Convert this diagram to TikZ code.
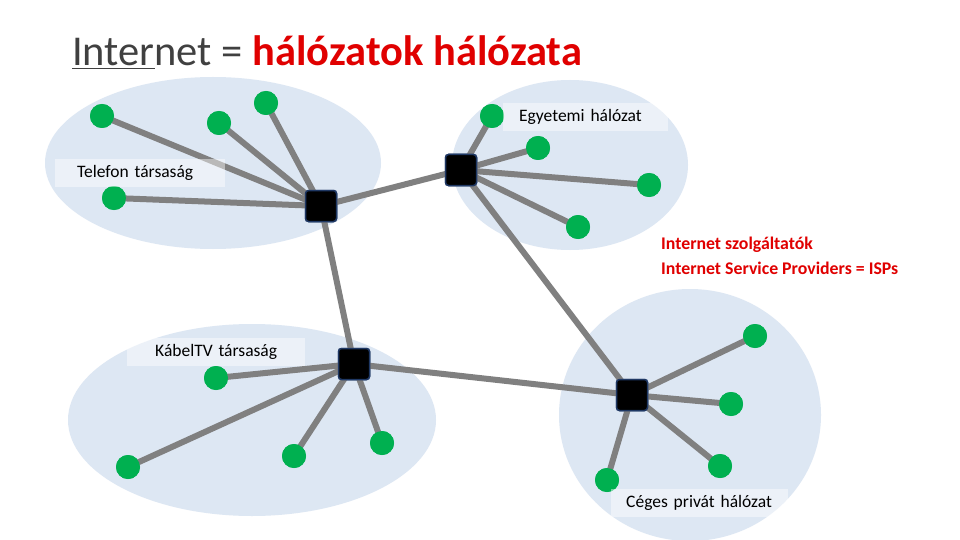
\documentclass[tikz,border=0pt]{standalone}
\usepackage{fontspec}
\setmainfont{Carlito}
\definecolor{cloud}{HTML}{DDE7F3}
\definecolor{leaf}{HTML}{00B050}
\definecolor{linkgray}{HTML}{808080}
\definecolor{rborder}{HTML}{1F3864}
\definecolor{titlered}{HTML}{E00000}
\definecolor{titlegray}{HTML}{404040}
\begin{document}
\begin{tikzpicture}[x=1pt,y=-1pt,
  net/.style={fill=cloud,draw=none},
  link/.style={draw=linkgray,line width=6pt},
  leafnode/.style={circle,fill=leaf,minimum size=24pt,inner sep=0pt},
  router/.style={rectangle,rounded corners=3pt,fill=black,draw=rborder,line width=1.5pt,minimum size=31pt,inner sep=0pt},
  tagbox/.style={fill=white,fill opacity=0.45,text opacity=1,anchor=west,inner xsep=0pt,inner ysep=6pt,font=\fontsize{17.5}{19}\selectfont},
  isp/.style={anchor=west,text=titlered,font=\bfseries\fontsize{17.8}{19}\selectfont,inner sep=0pt}]
\useasboundingbox (0,0) rectangle (960,540);
\fill[white] (0,0) rectangle (960,540);
% clouds
\path[net] (213,163) ellipse [x radius=168,y radius=86];
\path[net] (570,165) ellipse [x radius=118,y radius=85];
\path[net] (252,420) ellipse [x radius=184,y radius=96];
\path[net] (690,415) ellipse [x radius=131,y radius=126];
% routers
\node[router] (A) at (321,206) {};
\node[router] (B) at (461,170) {};
\node[router] (C) at (354,364) {};
\node[router] (D) at (632,395) {};
% leaves
\node[leafnode] (a1) at (102,116) {};
\node[leafnode] (a2) at (219,123) {};
\node[leafnode] (a3) at (266,103) {};
\node[leafnode] (a4) at (114,198) {};
\node[leafnode] (b1) at (492,116) {};
\node[leafnode] (b2) at (538,148) {};
\node[leafnode] (b3) at (649,185) {};
\node[leafnode] (b4) at (578,227) {};
\node[leafnode] (c1) at (216,378) {};
\node[leafnode] (c2) at (128,467) {};
\node[leafnode] (c3) at (294,456) {};
\node[leafnode] (c4) at (382,443) {};
\node[leafnode] (d1) at (755,336) {};
\node[leafnode] (d2) at (731,404) {};
\node[leafnode] (d3) at (720,466) {};
\node[leafnode] (d4) at (607,480) {};
% links
\foreach \r/\l in {A/a1,A/a2,A/a3,A/a4,B/b1,B/b2,B/b3,B/b4,C/c1,C/c2,C/c3,C/c4,D/d1,D/d2,D/d3,D/d4,A/B,A/C,B/D,C/D}
  \draw[link] (\r.center) -- (\l.center);
% redraw nodes on top of the links
\foreach \n/\p in {a1/{(102,116)},a2/{(219,123)},a3/{(266,103)},a4/{(114,198)},b1/{(492,116)},b2/{(538,148)},b3/{(649,185)},b4/{(578,227)},c1/{(216,378)},c2/{(128,467)},c3/{(294,456)},c4/{(382,443)},d1/{(755,336)},d2/{(731,404)},d3/{(720,466)},d4/{(607,480)}}
  \node[leafnode] at \p {};
\node[router] at (321,206) {};
\node[router] at (461,170) {};
\node[router] at (354,364) {};
\node[router] at (632,395) {};
% labels
\node[tagbox,text width=165pt] (lb) at (503,117) {\hspace*{16pt}Egyetemi hálózat};
\node[tagbox,text width=170pt] (la) at (55,173) {\hspace*{22pt}Telefon társaság};
\node[tagbox,text width=178pt] (lc) at (127,352) {\hspace*{28pt}KábelTV társaság};
\node[tagbox,text width=177pt] (ld) at (611,503) {\hspace*{15pt}Céges privát hálózat};
\node[isp] (i1) at (661,245) {Internet szolgáltatók};
\node[isp] (i2) at (661,268) {Internet Service Providers = ISPs};
% title
\node[anchor=base west,inner sep=0pt,font=\fontsize{42.5}{46}\selectfont] (title) at (72,66)
  {\textcolor{titlegray}{\underline{Inter}net =} \textcolor{titlered}{\bfseries hálózatok hálózata}};
\end{tikzpicture}
\end{document}
